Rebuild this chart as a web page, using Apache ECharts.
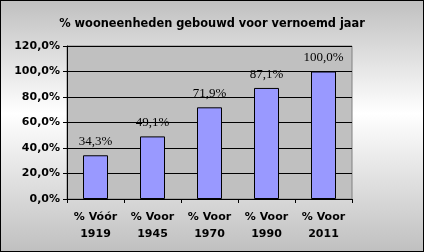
<!DOCTYPE html>
<html>
<head>
<meta charset="utf-8">
<script src="https://cdn.jsdelivr.net/npm/echarts@6/dist/echarts.min.js"></script>
<style>
  html, body { margin: 0; padding: 0; }
  #chart { width: 424px; height: 252px; box-sizing: border-box; border: 1px solid #000; }
</style>
</head>
<body>
<div id="chart"></div>
<script>
var categories = ['% Vóór\n1919', '% Voor\n1945', '% Voor\n1970', '% Voor\n1990', '% Voor\n2011'];
var values = [34.3, 49.1, 71.9, 87.1, 100.0];
var titleText = '% wooneenheden gebouwd voor vernoemd jaar';

function pct(v) {
  return v.toFixed(1).replace('.', ',') + '%';
}

var chart = echarts.init(document.getElementById('chart'));
chart.setOption({
  animation: false,
  backgroundColor: {
    type: 'linear', x: 0, y: 0, x2: 0, y2: 1,
    colorStops: [
      { offset: 0, color: '#c0c0c0' },
      { offset: 0.45, color: '#ffffff' },
      { offset: 1, color: '#c0c0c0' }
    ]
  },
  title: {
    text: titleText,
    left: 'center',
    top: 13,
    textStyle: { fontFamily: 'DejaVu Sans', fontSize: 11.4, fontWeight: 'bold', color: '#000' }
  },
  grid: {
    left: 66, top: 45, width: 285, height: 153,
    show: true, backgroundColor: '#c0c0c0', borderColor: '#808080', borderWidth: 1
  },
  xAxis: {
    type: 'category',
    data: categories,
    axisLine: { lineStyle: { color: '#000', width: 1 } },
    axisTick: { show: true, length: 4, lineStyle: { color: '#000' } },
    axisLabel: {
      margin: 10, lineHeight: 17,
      fontFamily: 'DejaVu Sans', fontSize: 11, fontWeight: 'bold', color: '#000'
    }
  },
  yAxis: {
    type: 'value',
    min: 0, max: 120, interval: 20,
    axisLine: { show: true, lineStyle: { color: '#000', width: 1 } },
    axisTick: { show: true, length: 4, lineStyle: { color: '#000' } },
    splitLine: { lineStyle: { color: '#000', width: 1 } },
    axisLabel: {
      margin: 7,
      formatter: function (v) { return pct(v); },
      fontFamily: 'DejaVu Sans', fontSize: 11, fontWeight: 'bold', color: '#000'
    }
  },
  series: [{
    type: 'bar',
    data: values,
    barWidth: 25,
    itemStyle: { color: '#9999ff', borderColor: '#000', borderWidth: 1 },
    label: {
      show: true, position: 'top', distance: 7,
      formatter: function (p) { return pct(p.value); },
      fontFamily: 'Liberation Serif', fontSize: 13, color: '#000'
    }
  }]
});
</script>
</body>
</html>
